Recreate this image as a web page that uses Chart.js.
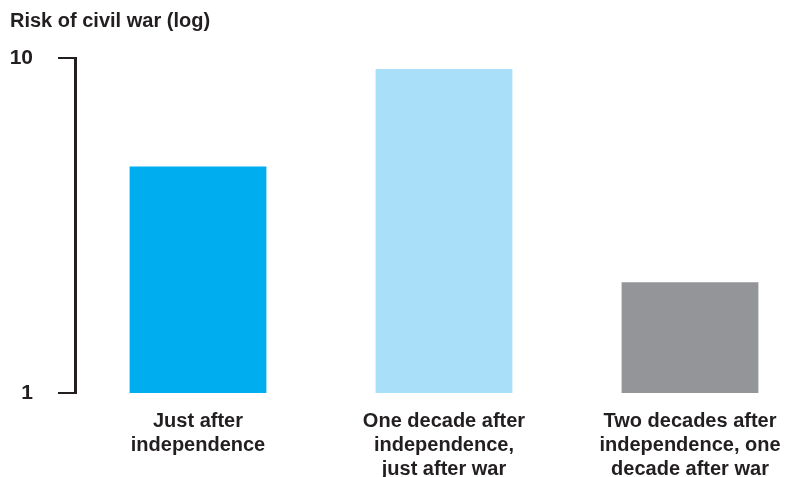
<!DOCTYPE html>
<html>
<head>
<meta charset="utf-8">
<script src="https://cdn.jsdelivr.net/npm/chart.js@4/dist/chart.umd.min.js"></script>
<style>
  html,body{margin:0;padding:0;background:#fff;overflow:hidden;width:786px;height:477px}
  #clip{width:786px;height:477px;overflow:hidden;position:relative}
  #wrap{width:813px;height:477px;position:absolute;left:0;top:0}
</style>
</head>
<body>
<div id="clip"><div id="wrap"><canvas id="riskChart"></canvas></div></div>
<script>
const categories=[
  ['Just after','independence'],
  ['One decade after','independence,','just after war'],
  ['Two decades after','independence, one','decade after war']
];
const risk=[4.74,9.27,2.14];
const barColors=['#00aeef','#a9dff9','#939598'];
const yTicks=[1,10];

const ink='#231f20';
const font="'Liberation Sans',Arial,sans-serif";

new Chart(document.getElementById('riskChart'),{
  type:'bar',
  data:{
    labels:categories,
    datasets:[{
      data:risk,
      backgroundColor:barColors,
      borderWidth:0,
      categoryPercentage:1,
      barPercentage:0.556
    }]
  },
  options:{
    responsive:true,
    maintainAspectRatio:false,
    animation:false,
    layout:{padding:{left:10,right:0,top:0,bottom:0}},
    plugins:{
      legend:{display:false},
      tooltip:{enabled:false},
      title:{
        display:true,
        text:'Risk of civil war (log)',
        align:'start',
        color:ink,
        font:{family:font,size:20,weight:'bold',lineHeight:1.2},
        padding:{top:9,bottom:25}
      }
    },
    scales:{
      x:{
        grid:{display:false},
        border:{display:false},
        afterFit:s=>{s.height=84},
        ticks:{
          color:ink,
          padding:8,
          maxRotation:0,
          autoSkip:false,
          font:{family:font,size:20,weight:'bold',lineHeight:1.2}
        }
      },
      y:{
        type:'logarithmic',
        min:1,
        max:10,
        afterBuildTicks:s=>{s.ticks=yTicks.map(v=>({value:v}))},
        afterFit:s=>{s.width=65},
        grid:{
          drawOnChartArea:false,
          drawTicks:true,
          tickLength:17,
          color:ink,
          lineWidth:2
        },
        border:{display:true,color:ink,width:3},
        ticks:{
          color:ink,
          padding:25,
          callback:v=>String(v),
          font:{family:font,size:21,weight:'bold'}
        }
      }
    }
  }
});
</script>
</body>
</html>
